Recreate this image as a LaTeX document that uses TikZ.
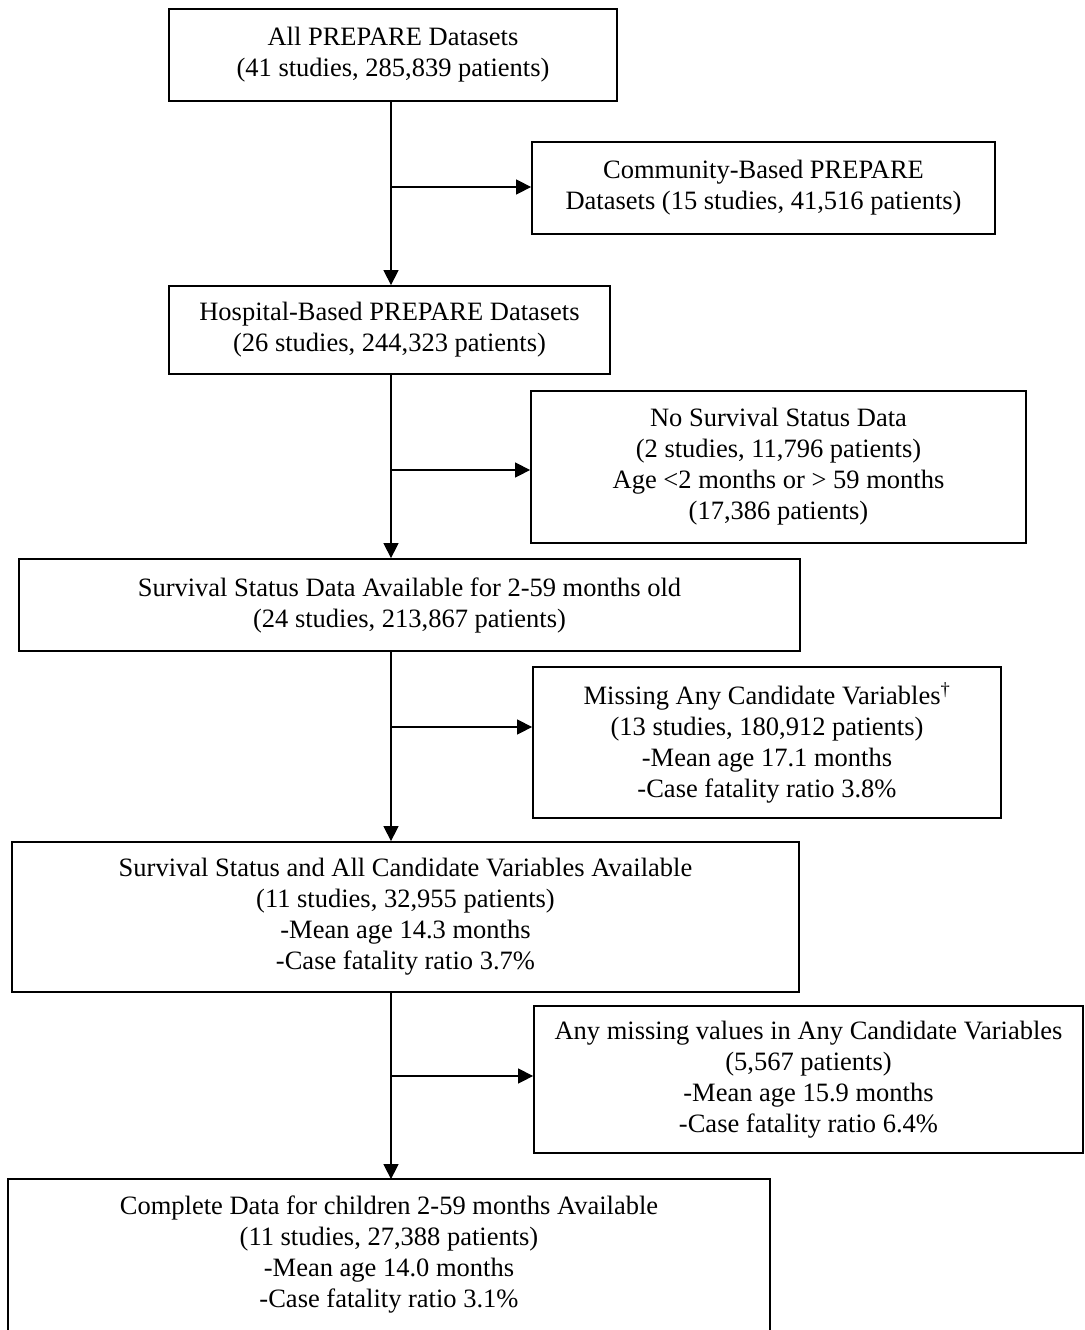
\documentclass[tikz,border=0pt]{standalone}
\usepackage{fontspec}
\setmainfont{Liberation Serif}
\usetikzlibrary{arrows.meta}
\begin{document}
\begin{tikzpicture}[x=1pt,y=-1pt,
  fbox/.style={draw, line width=1.8pt, align=center, inner sep=0pt,
    font=\fontsize{26.5}{31}\selectfont},
  arr/.style={line width=1.4pt, -{Triangle[length=15pt,width=15pt]}}]
\clip (0,0) rectangle (1084,1330);
\fill[white] (0,0) rectangle (1084,1330);
\coordinate (spine) at (391,0);
\node[fbox, minimum width=448, minimum height=92] (A) at (393,55)
  {All PREPARE Datasets\\(41 studies, 285,839 patients)};
\node[fbox, minimum width=463, minimum height=92] (B) at (763.5,188)
  {Community-Based PREPARE\\Datasets (15 studies, 41,516 patients)};
\node[fbox, minimum width=441, minimum height=88] (C) at (389.5,330)
  {Hospital-Based PREPARE Datasets\\(26 studies, 244,323 patients)};
\node[fbox, minimum width=495, minimum height=152] (D) at (778.5,467)
  {No Survival Status Data\\(2 studies, 11,796 patients)\\Age <2 months or > 59 months\\(17,386 patients)};
\node[fbox, minimum width=781, minimum height=92] (E) at (409.5,605)
  {Survival Status Data Available for 2-59 months old\\(24 studies, 213,867 patients)};
\node[fbox, minimum width=468, minimum height=151] (F) at (767,742.5)
  {Missing Any Candidate Variables\textsuperscript{\dag}\\(13 studies, 180,912 patients)\\-Mean age 17.1 months\\-Case fatality ratio 3.8\%};
\node[fbox, minimum width=787, minimum height=150] (G) at (405.5,917)
  {Survival Status and All Candidate Variables Available\\(11 studies, 32,955 patients)\\-Mean age 14.3 months\\-Case fatality ratio 3.7\%};
\node[fbox, minimum width=549, minimum height=147] (H) at (808.5,1079.5)
  {Any missing values in Any Candidate Variables\\(5,567 patients)\\-Mean age 15.9 months\\-Case fatality ratio 6.4\%};
\node[fbox, draw=none, minimum width=760, minimum height=150] (I) at (389,1255)
  {Complete Data for children 2-59 months Available\\(11 studies, 27,388 patients)\\-Mean age 14.0 months\\-Case fatality ratio 3.1\%};
\draw[line width=1.8pt] ([yshift=-25pt]I.south west) |- (I.north east) -- ([yshift=-25pt]I.south east);
\coordinate (b1) at (391,187);
\coordinate (b2) at (391,470);
\coordinate (b3) at (391,727);
\coordinate (b4) at (391,1076);
\draw[arr] (spine |- A.south) -- (spine |- C.north);
\draw[arr] (spine |- C.south) -- (spine |- E.north);
\draw[arr] (spine |- E.south) -- (spine |- G.north);
\draw[arr] (spine |- G.south) -- (spine |- I.north);
\draw[arr] (b1) -- (b1 -| B.west);
\draw[arr] (b2) -- (b2 -| D.west);
\draw[arr] (b3) -- (b3 -| F.west);
\draw[arr] (b4) -- (b4 -| H.west);
\end{tikzpicture}
\end{document}
